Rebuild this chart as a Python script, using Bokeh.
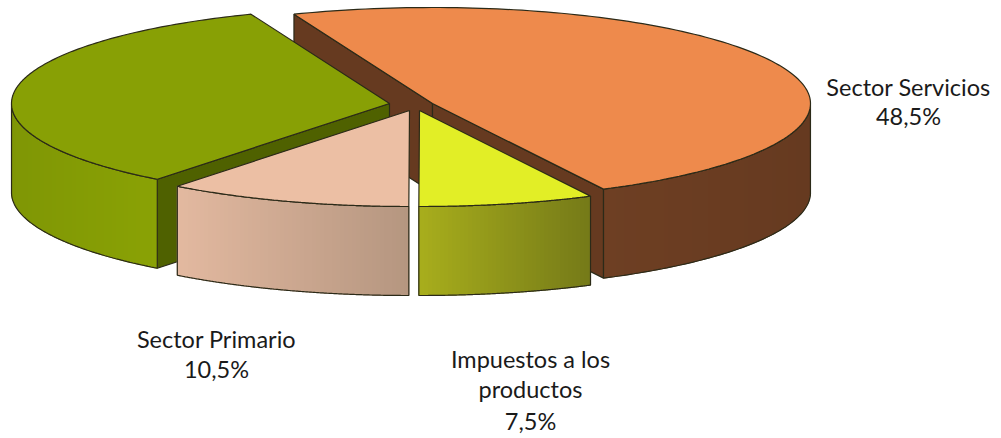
import numpy as np
from bokeh.plotting import figure
from bokeh.models import Range1d
from bokeh.core.properties import value
from bokeh.embed import file_html
from bokeh.resources import INLINE

sectors = ["Sector Servicios", "Impuestos a los productos", "Sector Primario", "Sector Industrial"]
shares = [48.5, 7.5, 10.5, 33.5]
top_colors = ["#EE8A4C", "#E2EE26", "#ECBFA4", "#88A005"]
cut_colors = ["#663A20", None, None, "#4F6100"]
wall_left = ["#6E3F23", "#A8AE1C", "#E3B9A0", "#7F9605"]
wall_right = ["#663A20", "#757A18", "#B59680", "#8AA205"]
apex_x = [432, 419, 409, 389]
apex_y = [103, 110, 110, 103]
labels = [("Sector Servicios", 908, 86), ("48,5%", 908, 115),
          ("Sector Primario", 216, 338), ("10,5%", 216, 368),
          ("Impuestos a los", 530, 358), ("productos", 530, 388), ("7,5%", 530, 420)]

RX, RY, DEPTH = 378, 96, 89
START = 111.5
EDGE = "#2B2A18"
W, H = 1000, 437

p = figure(width=W, height=H, output_backend="svg", toolbar_location=None,
           x_range=Range1d(0, W), y_range=Range1d(H, 0), min_border=0,
           outline_line_color=None, background_fill_color="white", border_fill_color="white")
p.xaxis.visible = False
p.yaxis.visible = False
p.grid.visible = False


def rim(cx, cy, a0, a1, n=140):
    t = np.radians(np.linspace(a0, a1, n))
    return cx + RX * np.cos(t), cy - RY * np.sin(t)


def mix(c0, c1, f):
    a = [int(c0[i:i + 2], 16) for i in (1, 3, 5)]
    b = [int(c1[i:i + 2], 16) for i in (1, 3, 5)]
    return "#%02x%02x%02x" % tuple(int(round(u + (v - u) * f)) for u, v in zip(a, b))


def cut_face(cx, cy, a, color):
    ex, ey = rim(cx, cy, a, a, 1)
    p.patch([cx, ex[0], ex[0], cx], [cy, ey[0], ey[0] + DEPTH, cy + DEPTH],
            fill_color=color, line_color=EDGE, line_width=1.2)


angles = START - np.cumsum([0] + shares) * 3.6
for i in [0, 3, 2, 1]:
    a0, a1 = angles[i], angles[i + 1]
    cx, cy = apex_x[i], apex_y[i]
    rx, ry = rim(cx, cy, a0, a1)

    if i == 0:
        cut_face(cx, cy, a0, cut_colors[i])
        cut_face(cx, cy, a1, cut_colors[i])
    if i == 3:
        cut_face(cx, cy, a0, cut_colors[i])

    # outer wall, near side of the ellipse only
    t = np.linspace(a0, a1, 200)
    t = t[np.sin(np.radians(t)) <= 0.0]
    wx = cx + RX * np.cos(np.radians(t))
    wy = cy - RY * np.sin(np.radians(t))
    lo, hi = wx.min(), wx.max()
    grid = np.r_[lo, np.arange(np.ceil(lo / 4) * 4, hi, 4), hi]
    order = np.argsort(wx)
    gy = np.interp(grid, wx[order], wy[order])
    xs, ys, cols = [], [], []
    for k in range(len(grid) - 1):
        xs.append([grid[k], grid[k + 1], grid[k + 1], grid[k]])
        ys.append([gy[k], gy[k + 1], gy[k + 1] + DEPTH, gy[k] + DEPTH])
        cols.append(mix(wall_left[i], wall_right[i], ((grid[k] + grid[k + 1]) / 2 - lo) / (hi - lo)))
    p.patches(xs, ys, fill_color=cols, line_color=cols, line_width=1)
    p.line(np.r_[wx, wx[::-1], wx[0]], np.r_[wy, wy[::-1] + DEPTH, wy[0]],
           line_color=EDGE, line_width=1.2)

    p.patch(np.r_[cx, rx], np.r_[cy, ry], fill_color=top_colors[i],
            line_color=EDGE, line_width=1.2)

for txt, x, y in labels:
    p.text([x], [y], text=[txt], text_font=value("Lato"), text_font_size="23.5px",
           text_color="#1a1a1a", text_align="center", text_baseline="middle")

open("out.html", "w").write(file_html(p, INLINE))
